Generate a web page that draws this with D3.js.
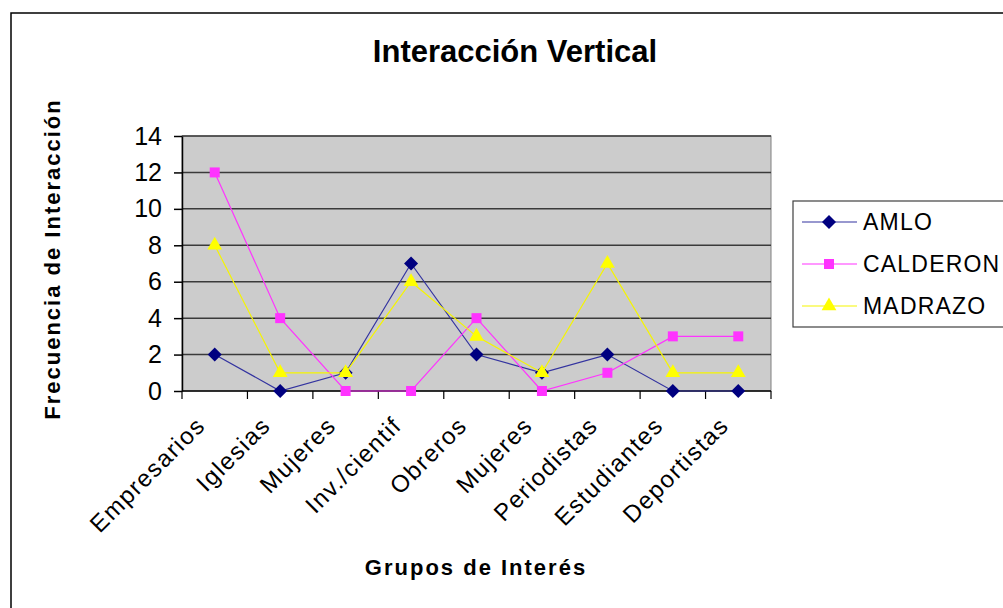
<!DOCTYPE html>
<html>
<head>
<meta charset="utf-8">
<script src="https://cdn.jsdelivr.net/npm/d3@7"></script>
<style>
  body { margin: 0; background: white; }
  svg { display: block; font-family: "Liberation Sans", Arial, sans-serif; }
</style>
</head>
<body>
<div id="chart"></div>
<script>
var categories = ["Empresarios", "Iglesias", "Mujeres", "Inv./cientif", "Obreros", "Mujeres ", "Periodistas", "Estudiantes", "Deportistas"];
var amlo = [2, 0, 1, 7, 2, 1, 2, 0, 0];
var calderon = [12, 4, 0, 0, 4, 0, 1, 3, 3];
var madrazo = [8, 1, 1, 6, 3, 1, 7, 1, 1];
var seriesNames = ["AMLO", "CALDERON", "MADRAZO"];
var yTicks = [0, 2, 4, 6, 8, 10, 12, 14];

var series = [
  { name: seriesNames[0], values: amlo, line: "#3333a0", fill: "#000080", shape: d3.symbolSquare, size: 98, rot: 45 },
  { name: seriesNames[1], values: calderon, line: "#ff33ff", fill: "#ff33ff", shape: d3.symbolSquare, size: 100, rot: 0 },
  { name: seriesNames[2], values: madrazo, line: "#f5f500", fill: "#ffff00", shape: d3.symbolTriangle, size: 95, rot: 0 }
];

var W = 1003, H = 608;
var plot = { left: 182, top: 136, right: 771, bottom: 391 };

var svg = d3.select("#chart").append("svg")
  .attr("width", W)
  .attr("height", H);

// outer chart border
svg.append("rect")
  .attr("x", 11).attr("y", 13)
  .attr("width", W).attr("height", H)
  .style("fill", "white")
  .style("stroke", "black")
  .style("stroke-width", 1.5);

var x = d3.scaleBand().domain(d3.range(categories.length)).range([plot.left, plot.right]);
var y = d3.scaleLinear().domain([0, 14]).range([plot.bottom, plot.top]);

// plot background
svg.append("rect")
  .attr("x", plot.left).attr("y", plot.top)
  .attr("width", plot.right - plot.left).attr("height", plot.bottom - plot.top)
  .style("fill", "#cccccc")
  .style("stroke", "#808080")
  .style("stroke-width", 1);

// gridlines
svg.selectAll("line.grid")
  .data(yTicks.filter(function (d) { return d > 0; }))
  .enter().append("line")
  .attr("class", "grid")
  .attr("x1", plot.left).attr("x2", plot.right)
  .attr("y1", function (d) { return y(d); })
  .attr("y2", function (d) { return y(d); })
  .style("stroke", "#3a3a3a")
  .style("stroke-width", 1.5);

// y axis
var yAxis = svg.append("g")
  .attr("transform", "translate(" + plot.left + ",0)")
  .call(d3.axisLeft(y).tickValues(yTicks).tickSize(8).tickPadding(12).tickSizeOuter(0));
yAxis.select(".domain").style("stroke", "black").style("stroke-width", 1.5);
yAxis.selectAll(".tick line").style("stroke", "black").style("stroke-width", 1.5);
yAxis.selectAll("text")
  .style("font-size", "25px")
  .style("fill", "black")
  .style("font-family", "Liberation Sans, Arial, sans-serif");

// x axis line + ticks at category boundaries
svg.append("line")
  .attr("x1", plot.left).attr("x2", plot.right)
  .attr("y1", plot.bottom).attr("y2", plot.bottom)
  .style("stroke", "black").style("stroke-width", 1.5);

svg.selectAll("line.xtick")
  .data(d3.range(categories.length + 1))
  .enter().append("line")
  .attr("class", "xtick")
  .attr("x1", function (d) { return plot.left + d * x.step(); })
  .attr("x2", function (d) { return plot.left + d * x.step(); })
  .attr("y1", plot.bottom).attr("y2", plot.bottom + 8)
  .style("stroke", "black").style("stroke-width", 1.2);

svg.selectAll("text.cat")
  .data(categories)
  .enter().append("text")
  .attr("class", "cat")
  .attr("transform", function (d, i) {
    var cx = x(i) + x.bandwidth() / 2;
    return "translate(" + (cx - 8) + "," + (plot.bottom + 36) + ") rotate(-45)";
  })
  .attr("text-anchor", "end")
  .style("font-size", "24px")
  .style("letter-spacing", "1.5px")
  .text(function (d) { return d.trim(); });

// series lines and markers
var line = d3.line()
  .x(function (d, i) { return x(i) + x.bandwidth() / 2; })
  .y(function (d) { return y(d); });

series.forEach(function (s) {
  svg.append("path")
    .datum(s.values)
    .attr("d", line)
    .style("fill", "none")
    .style("stroke", s.line)
    .style("stroke-width", 1.2);

  svg.selectAll("path.m-" + s.name)
    .data(s.values)
    .enter().append("path")
    .attr("class", "m-" + s.name)
    .attr("transform", function (d, i) {
      return "translate(" + (x(i) + x.bandwidth() / 2) + "," + y(d) + ") rotate(" + s.rot + ")";
    })
    .attr("d", d3.symbol().type(s.shape).size(s.size))
    .style("fill", s.fill)
    .style("stroke", "none");
});

// legend
var legend = svg.append("g");
legend.append("rect")
  .attr("x", 793).attr("y", 201)
  .attr("width", 260).attr("height", 126)
  .style("fill", "white")
  .style("stroke", "#404040")
  .style("stroke-width", 1.2);

var items = legend.selectAll("g.item")
  .data(series)
  .enter().append("g")
  .attr("transform", function (d, i) { return "translate(0," + (222 + i * 42) + ")"; });

items.append("line")
  .attr("x1", 802).attr("x2", 857)
  .attr("y1", 0).attr("y2", 0)
  .style("stroke", function (d) { return d.line; })
  .style("stroke-width", 1.2);

items.append("path")
  .attr("transform", function (d) { return "translate(829,0) rotate(" + d.rot + ")"; })
  .attr("d", function (d) { return d3.symbol().type(d.shape).size(d.size)(); })
  .style("fill", function (d) { return d.fill; });

items.append("text")
  .attr("x", 863).attr("y", 0)
  .attr("dy", "0.36em")
  .style("font-size", "23px")
  .style("letter-spacing", "1.2px")
  .text(function (d) { return d.name; });

// titles
svg.append("text")
  .attr("x", 515).attr("y", 62)
  .attr("text-anchor", "middle")
  .style("font-size", "31px")
  .style("font-weight", "bold")
  .text("Interacción Vertical");

svg.append("text")
  .attr("x", 476).attr("y", 575)
  .attr("text-anchor", "middle")
  .style("font-size", "22px")
  .style("font-weight", "bold")
  .style("letter-spacing", "2px")
  .text("Grupos de Interés");

svg.append("text")
  .attr("transform", "translate(60,259) rotate(-90)")
  .attr("text-anchor", "middle")
  .style("font-size", "22px")
  .style("font-weight", "bold")
  .style("letter-spacing", "2px")
  .text("Frecuencia de Interacción");
</script>
</body>
</html>
